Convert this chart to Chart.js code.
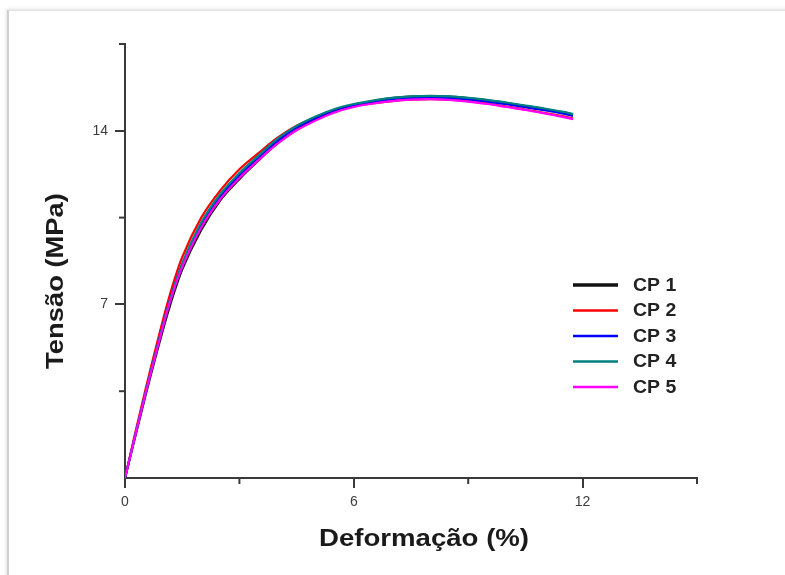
<!DOCTYPE html>
<html lang="pt-br">
<head>
    <meta charset="UTF-8">
    <title>Tensão x Deformação</title>
    <script src="https://cdn.jsdelivr.net/npm/chart.js"></script>
    <style>
        html, body { margin: 0; padding: 0; background: #fff; }
        body { width: 785px; height: 575px; position: relative; overflow: hidden; }
        .moldura {
            position: absolute; left: 7px; top: 10px; right: -10px; bottom: -10px;
            border-top: 1px solid #e2e2e2; border-left: 2px solid #cfcfcf;
            box-shadow: -1px -1px 3px rgba(0,0,0,0.12);
        }
        canvas { position: absolute; left: 0; top: 0; }
    </style>
</head>
<body>
    <div class="moldura"></div>
    <canvas id="grafico" width="785" height="575"></canvas>

    <script>
        // Deformação (%) - eixo x
        const deformacao = [0, 0.25, 0.55, 0.85, 1.15, 1.5, 2.0, 2.5, 3.0, 3.5, 4.0, 4.5, 5.0, 5.5,
            6.0, 6.5, 7.0, 7.5, 8.0, 8.5, 9.0, 9.5, 10.0, 10.5, 11.0, 11.5, 11.75];

        // Tensão (MPa) de cada corpo de prova
        const cp1 = [0, 1.55, 3.4, 5.15, 6.8, 8.4, 10.0, 11.2, 12.05, 12.8, 13.5, 14.05, 14.48, 14.82,
            15.05, 15.2, 15.32, 15.38, 15.4, 15.38, 15.32, 15.23, 15.12, 15.0, 14.88, 14.74, 14.66];
        const cp2 = [0, 1.7, 3.65, 5.5, 7.25, 8.9, 10.5, 11.6, 12.45, 13.1, 13.72, 14.2, 14.55, 14.83,
            15.0, 15.1, 15.2, 15.26, 15.28, 15.26, 15.2, 15.1, 14.98, 14.86, 14.72, 14.58, 14.5];
        const cp3 = [0, 1.6, 3.5, 5.3, 7.0, 8.6, 10.2, 11.35, 12.2, 12.92, 13.6, 14.14, 14.52, 14.83,
            15.03, 15.16, 15.28, 15.33, 15.35, 15.33, 15.27, 15.18, 15.07, 14.95, 14.83, 14.69, 14.6];
        const cp4 = [0, 1.62, 3.52, 5.32, 7.02, 8.65, 10.3, 11.45, 12.3, 13.0, 13.68, 14.2, 14.58, 14.88,
            15.08, 15.22, 15.33, 15.39, 15.41, 15.39, 15.33, 15.25, 15.14, 15.02, 14.9, 14.76, 14.68];
        const cp5 = [0, 1.6, 3.48, 5.25, 6.95, 8.5, 10.1, 11.25, 12.1, 12.82, 13.48, 14.02, 14.42, 14.74,
            14.96, 15.1, 15.2, 15.26, 15.28, 15.25, 15.18, 15.08, 14.96, 14.84, 14.7, 14.55, 14.47];

        const nomes = ['CP 1', 'CP 2', 'CP 3', 'CP 4', 'CP 5'];
        const cores = ['#111111', '#ff0000', '#0000ff', '#008080', '#ff00ff'];

        // ticks com rótulo
        const rotulosX = [0, 6, 12];
        const rotulosY = [7, 14];

        const series = [cp1, cp2, cp3, cp4, cp5];
        const corEixo = '#3a3a3a';
        const fonte = '"Liberation Sans", Arial, sans-serif';

        function pontos(ys) {
            return ys.map((y, i) => ({ x: deformacao[i], y: y }));
        }

        // texto um pouco esticado na horizontal, como no original
        function textoLargo(ctx, txt, x, y, esc, ang) {
            ctx.save();
            ctx.translate(x, y);
            if (ang) ctx.rotate(ang);
            ctx.scale(esc, 1);
            ctx.fillText(txt, 0, 0);
            ctx.restore();
        }

        // ticks menores, titulos e legenda
        const extras = {
            id: 'extras',
            afterDraw(chart) {
                const ctx = chart.ctx;
                const area = chart.chartArea;
                const sx = chart.scales.x, sy = chart.scales.y;
                ctx.save();
                ctx.strokeStyle = corEixo;
                ctx.lineWidth = 2;
                sx.ticks.forEach(t => {
                    if (rotulosX.includes(t.value)) return;
                    const px = sx.getPixelForValue(t.value);
                    ctx.beginPath();
                    ctx.moveTo(px, area.bottom);
                    ctx.lineTo(px, area.bottom + 6);
                    ctx.stroke();
                });
                sy.ticks.forEach(t => {
                    if (rotulosY.includes(t.value) || t.value === 0) return;
                    const py = sy.getPixelForValue(t.value);
                    ctx.beginPath();
                    ctx.moveTo(area.left, py);
                    ctx.lineTo(area.left - 6, py);
                    ctx.stroke();
                });

                // titulos dos eixos
                ctx.fillStyle = '#1a1a1a';
                ctx.font = 'bold 24px ' + fonte;
                ctx.textAlign = 'center';
                ctx.textBaseline = 'middle';
                textoLargo(ctx, 'Deformação (%)', (area.left + area.right) / 2 + 13, area.bottom + 61, 1.15);
                textoLargo(ctx, 'Tensão (MPa)', area.left - 69, (area.top + area.bottom) / 2 + 20, 1.14, -Math.PI / 2);

                // legenda
                ctx.font = 'bold 18px ' + fonte;
                ctx.textAlign = 'left';
                chart.data.datasets.forEach((ds, i) => {
                    const y = 285 + i * 25.5;
                    ctx.strokeStyle = ds.borderColor;
                    ctx.lineWidth = i === 0 ? 3.5 : 2.5;
                    ctx.beginPath();
                    ctx.moveTo(573, y);
                    ctx.lineTo(618, y);
                    ctx.stroke();
                    ctx.fillStyle = '#222';
                    textoLargo(ctx, ds.label, 633, y + 1, 1.08);
                });
                ctx.restore();
            }
        };

        new Chart(document.getElementById('grafico'), {
            type: 'line',
            data: {
                datasets: series.map((s, i) => ({
                    label: nomes[i],
                    data: pontos(s),
                    borderColor: cores[i],
                    borderWidth: 2.2,
                    pointRadius: 0,
                    fill: false,
                    tension: 0.3,
                    order: 5 - i
                }))
            },
            options: {
                responsive: false,
                animation: false,
                devicePixelRatio: 1,
                layout: { padding: { left: 0, top: 44, right: 88, bottom: 0 } },
                plugins: { legend: { display: false }, tooltip: { enabled: false } },
                scales: {
                    x: {
                        type: 'linear',
                        min: 0, max: 15,
                        afterFit: s => { s.height = 97; },
                        border: { display: true, color: corEixo, width: 2 },
                        grid: {
                            drawOnChartArea: false, drawTicks: true, tickLength: 10, lineWidth: 2,
                            color: c => rotulosX.includes(c.tick.value) ? corEixo : 'rgba(0,0,0,0)'
                        },
                        ticks: {
                            stepSize: 3, padding: 6, color: '#3c3c3c', maxRotation: 0,
                            font: { size: 14, family: fonte },
                            callback: v => rotulosX.includes(v) ? String(v) : ''
                        }
                    },
                    y: {
                        type: 'linear',
                        min: 0, max: 17.5,
                        afterFit: s => { s.width = 125; },
                        border: { display: true, color: corEixo, width: 2 },
                        grid: {
                            drawOnChartArea: false, drawTicks: true, tickLength: 10, lineWidth: 2,
                            color: c => rotulosY.includes(c.tick.value) ? corEixo : 'rgba(0,0,0,0)'
                        },
                        ticks: {
                            stepSize: 3.5, padding: 7, color: '#3c3c3c',
                            font: { size: 14, family: fonte },
                            callback: v => rotulosY.includes(v) ? String(v) : ''
                        }
                    }
                }
            },
            plugins: [extras]
        });
    </script>
</body>
</html>
